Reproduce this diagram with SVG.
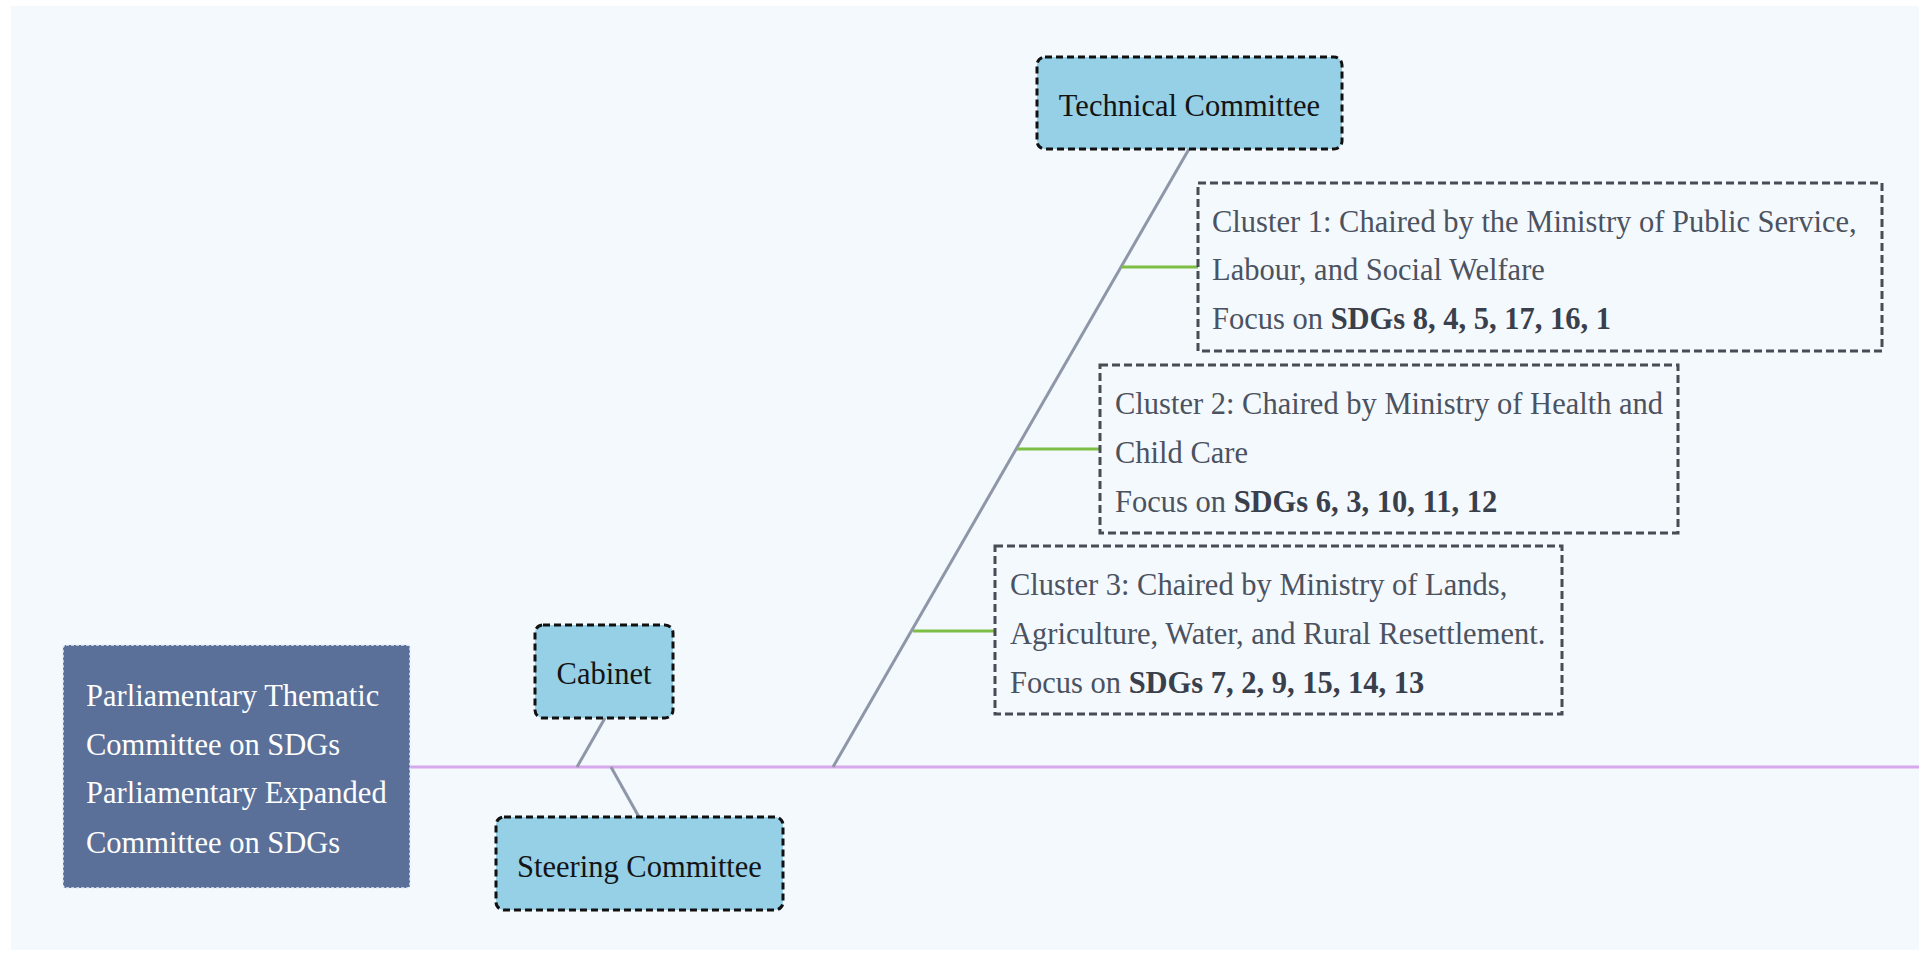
<svg xmlns="http://www.w3.org/2000/svg" width="1919" height="954" viewBox="0 0 1919 954">
<style>
.t{font-family:"Liberation Serif","Times New Roman",serif;font-size:30.5px}
.node{fill:#95D0E6;stroke:#111;stroke-width:3;stroke-dasharray:7 4}
.nt{fill:#141414}
.cl{fill:none;stroke:#474c55;stroke-width:3;stroke-dasharray:8 4}
.ct{fill:#4b5260}
.b{font-weight:bold;fill:#3a404b}
.br{stroke:#8E96A8;stroke-width:3;fill:none}
.gr{stroke:#7DBE45;stroke-width:3;fill:none}
</style>
<rect x="11" y="6" width="1908" height="944" fill="#F4F9FD"/>
<g id="connectors">
<line x1="409" y1="767" x2="1919" y2="767" stroke="#D6A8EC" stroke-width="3"/>
<line class="br" x1="605" y1="718" x2="577" y2="767"/>
<line class="br" x1="611" y1="767" x2="639" y2="817"/>
<line class="br" x1="1189" y1="149" x2="833" y2="767"/>
<line class="gr" x1="1122" y1="267" x2="1198" y2="267"/>
<line class="gr" x1="1017" y1="449" x2="1100" y2="449"/>
<line class="gr" x1="913" y1="631" x2="995" y2="631"/>
</g>
<g id="parliamentary">
<rect x="63" y="645" width="347" height="243" rx="3" fill="#5A7099" stroke="#E4ECF7" stroke-width="1.5" stroke-dasharray="3 2"/>
<text class="t" fill="#FFFFFF" x="86" y="706">Parliamentary Thematic</text>
<text class="t" fill="#FFFFFF" x="86" y="755">Committee on SDGs</text>
<text class="t" fill="#FFFFFF" x="86" y="803">Parliamentary Expanded</text>
<text class="t" fill="#FFFFFF" x="86" y="853">Committee on SDGs</text>
</g>
<g id="cabinet">
<rect class="node" x="535" y="625" width="138" height="93" rx="8"/>
<text class="t nt" x="604" y="684" text-anchor="middle">Cabinet</text>
</g>
<g id="steering">
<rect class="node" x="496" y="817" width="287" height="93" rx="8"/>
<text class="t nt" x="639.5" y="877" text-anchor="middle">Steering Committee</text>
</g>
<g id="technical">
<rect class="node" x="1037" y="57" width="305" height="92" rx="8"/>
<text class="t nt" x="1189.5" y="116" text-anchor="middle">Technical Committee</text>
</g>
<g id="cluster1">
<rect class="cl" x="1198" y="183" width="684" height="168"/>
<text class="t ct" x="1212" y="232">Cluster 1: Chaired by the Ministry of Public Service,</text>
<text class="t ct" x="1212" y="280">Labour, and Social Welfare</text>
<text class="t ct" x="1212" y="329">Focus on <tspan class="b">SDGs 8, 4, 5, 17, 16, 1</tspan></text>
</g>
<g id="cluster2">
<rect class="cl" x="1100" y="365" width="578" height="168"/>
<text class="t ct" x="1115" y="414">Cluster 2: Chaired by Ministry of Health and</text>
<text class="t ct" x="1115" y="463">Child Care</text>
<text class="t ct" x="1115" y="512">Focus on <tspan class="b">SDGs 6, 3, 10, 11, 12</tspan></text>
</g>
<g id="cluster3">
<rect class="cl" x="995" y="546" width="567" height="168"/>
<text class="t ct" x="1010" y="595">Cluster 3: Chaired by Ministry of Lands,</text>
<text class="t ct" x="1010" y="644">Agriculture, Water, and Rural Resettlement.</text>
<text class="t ct" x="1010" y="693">Focus on <tspan class="b">SDGs 7, 2, 9, 15, 14, 13</tspan></text>
</g>
</svg>
